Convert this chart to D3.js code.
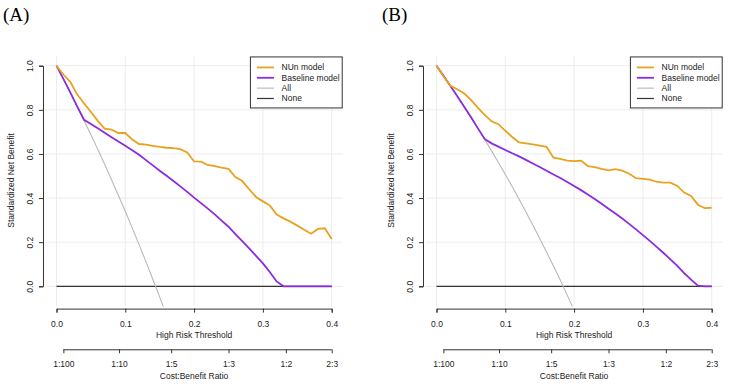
<!DOCTYPE html>
<html lang="en">
<head>
<meta charset="UTF-8">
<title>decision curves</title>
<script src="https://d3js.org/d3.v7.min.js"></script>
<style>
    body { margin: 0; background: #fff; }
    text { font-family: "Liberation Sans", Arial, sans-serif; font-size: 8.5px; fill: #222; }
    .panel-label { font-family: "Liberation Serif", "Times New Roman", serif; font-size: 19px; fill: #000; }
</style>
</head>
<body>
<script>
// thresholds 0.00 .. 0.40 step 0.01
const thresholds = [0.00, 0.01, 0.02, 0.03, 0.04, 0.05, 0.06, 0.07, 0.08, 0.09,
    0.10, 0.11, 0.12, 0.13, 0.14, 0.15, 0.16, 0.17, 0.18, 0.19,
    0.20, 0.21, 0.22, 0.23, 0.24, 0.25, 0.26, 0.27, 0.28, 0.29,
    0.30, 0.31, 0.32, 0.33, 0.34, 0.35, 0.36, 0.37, 0.38, 0.39, 0.40];

// panel A
const nunA = [1.000, 0.960, 0.927, 0.870, 0.830, 0.790, 0.750, 0.715, 0.710, 0.695,
    0.695, 0.665, 0.645, 0.642, 0.637, 0.632, 0.628, 0.626, 0.622, 0.607,
    0.566, 0.565, 0.550, 0.545, 0.538, 0.532, 0.495, 0.477, 0.440, 0.405,
    0.385, 0.367, 0.325, 0.308, 0.293, 0.275, 0.256, 0.238, 0.260, 0.263, 0.214];
const baseA = [1.000, 0.940, 0.879, 0.816, 0.755, 0.736, 0.716, 0.696, 0.676, 0.656,
    0.637, 0.617, 0.596, 0.572, 0.548, 0.524, 0.501, 0.477, 0.453, 0.428,
    0.402, 0.377, 0.352, 0.326, 0.298, 0.270, 0.237, 0.205, 0.172, 0.138,
    0.104, 0.065, 0.022, 0.000, 0.000, 0.000, 0.000, 0.000, 0.000, 0.000, 0.000];
const allA = [1.000, 0.940, 0.879, 0.816, 0.752, 0.687, 0.621, 0.553, 0.483, 0.412,
    0.340, 0.265, 0.189, 0.112, 0.032, -0.049, -0.132];

// panel B
const nunB = [1.000, 0.953, 0.910, 0.893, 0.875, 0.845, 0.810, 0.777, 0.748, 0.735,
    0.705, 0.677, 0.652, 0.648, 0.643, 0.638, 0.632, 0.583, 0.578, 0.570,
    0.567, 0.570, 0.545, 0.540, 0.532, 0.526, 0.531, 0.524, 0.510, 0.490,
    0.487, 0.484, 0.474, 0.470, 0.470, 0.455, 0.425, 0.410, 0.370, 0.354, 0.356];
const baseB = [1.000, 0.955, 0.909, 0.863, 0.815, 0.767, 0.717, 0.668, 0.648, 0.633,
    0.618, 0.603, 0.589, 0.573, 0.557, 0.541, 0.524, 0.507, 0.491, 0.473,
    0.455, 0.436, 0.416, 0.396, 0.374, 0.352, 0.330, 0.307, 0.283, 0.258,
    0.232, 0.206, 0.179, 0.151, 0.122, 0.093, 0.060, 0.030, 0.003, 0.000, 0.000];
const allB = [1.000, 0.955, 0.909, 0.863, 0.815, 0.767, 0.717, 0.666, 0.614, 0.561,
    0.507, 0.452, 0.395, 0.337, 0.278, 0.217, 0.155, 0.092, 0.027, -0.040, -0.109];

const xTicks = [0, 0.1, 0.2, 0.3, 0.4];
const yTicks = [0, 0.2, 0.4, 0.6, 0.8, 1.0];
const cbLabels = ["1:100", "1:10", "1:5", "1:3", "1:2", "2:3"];
const cbTicks = [0.01, 1 / 11, 1 / 6, 0.25, 1 / 3, 0.4];
const legendNames = ["NUn model", "Baseline model", "All", "None"];

const colors = { nun: "#E9A21E", base: "#8A2BE2", all: "#B8B8B8", none: "#333333" };

const W = 729, H = 386;
const svg = d3.select("body").append("svg").attr("width", W).attr("height", H);

function drawPanel(id, label, left, labelX, nun, base, all) {
    const g = svg.append("g");
    const x = d3.scaleLinear().domain([0, 0.4]).range([left, left + 275.2]);
    const y = d3.scaleLinear().domain([0, 1]).range([286.3, 65.7]);
    // plot region like R (4% extension)
    const px0 = x(-0.016), px1 = x(0.416), py0 = y(1.042), py1 = y(-0.092);

    g.append("text").attr("class", "panel-label").attr("x", labelX).attr("y", 21).text(label);

    g.append("clipPath").attr("id", "clip" + id)
        .append("rect").attr("x", px0).attr("y", py0).attr("width", px1 - px0).attr("height", py1 - py0);

    // grid
    g.selectAll(".vg").data(xTicks).join("line")
        .attr("x1", d => x(d)).attr("x2", d => x(d)).attr("y1", py0).attr("y2", py1)
        .attr("stroke", "#ececec").attr("stroke-width", 1);
    g.selectAll(".hg").data(yTicks).join("line")
        .attr("y1", d => y(d)).attr("y2", d => y(d)).attr("x1", px0).attr("x2", px1)
        .attr("stroke", "#ececec").attr("stroke-width", 1);

    const line = d3.line().x((d, i) => x(thresholds[i])).y(d => y(d));
    const plot = g.append("g").attr("clip-path", `url(#clip${id})`);

    plot.append("line").attr("x1", x(0)).attr("x2", x(0.4)).attr("y1", y(0)).attr("y2", y(0))
        .attr("stroke", colors.none).attr("stroke-width", 1.2);
    plot.append("path").datum(all).attr("d", line).attr("fill", "none")
        .attr("stroke", colors.all).attr("stroke-width", 1.1);
    plot.append("path").datum(base).attr("d", line).attr("fill", "none")
        .attr("stroke", colors.base).attr("stroke-width", 1.8);
    plot.append("path").datum(nun).attr("d", line).attr("fill", "none")
        .attr("stroke", colors.nun).attr("stroke-width", 1.8);

    // axes
    const xAxis = g.append("g").attr("transform", `translate(0,${py1 + 2})`)
        .call(d3.axisBottom(x).tickValues(xTicks).tickFormat(d3.format(".1f")).tickSizeOuter(0).tickSize(4).tickPadding(8));
    const yAxis = g.append("g").attr("transform", `translate(${px0 - 2.5},0)`)
        .call(d3.axisLeft(y).tickValues(yTicks).tickFormat(d3.format(".1f")).tickSizeOuter(0).tickSize(4).tickPadding(3));
    yAxis.selectAll(".tick text").attr("transform", "rotate(-90)")
        .attr("text-anchor", "middle").attr("x", 0).attr("y", -10).attr("dy", 0);

    const cb = g.append("g").attr("transform", `translate(0,349.3)`)
        .call(d3.axisBottom(x).tickValues(cbTicks).tickFormat((d, i) => cbLabels[i]).tickSizeOuter(0).tickSize(4).tickPadding(8));
    cb.select(".domain").remove();
    cb.append("line").attr("x1", x(0.01)).attr("x2", x(0.4)).attr("y1", 0.5).attr("y2", 0.5)
        .attr("stroke", "#333");

    [xAxis, yAxis, cb].forEach(a => {
        a.selectAll("text").attr("font-size", null).attr("font-family", null).attr("fill", "#222");
        a.selectAll("path, line").attr("stroke", "#333");
    });

    g.append("text").attr("x", x(0.2)).attr("y", 338).attr("text-anchor", "middle").text("High Risk Threshold");
    g.append("text").attr("x", x(0.2)).attr("y", 379).attr("text-anchor", "middle").text("Cost:Benefit Ratio");
    g.append("text").attr("transform", `translate(${left - 42.5},${y(0.48)}) rotate(-90)`)
        .attr("x", 0).attr("y", 0).attr("text-anchor", "middle").text("Standardized Net Benefit");

    // legend
    const lw = 92.8, lh = 51;
    const lg = g.append("g").attr("transform", `translate(${px1 - lw},${py0})`);
    lg.append("rect").attr("x", 0.5).attr("y", 0.5).attr("width", lw - 1).attr("height", lh)
        .attr("fill", "#fff").attr("stroke", "#333").attr("stroke-width", 1);
    const lc = [colors.nun, colors.base, colors.all, colors.none];
    const lsw = [1.8, 1.8, 1.1, 1.2];
    legendNames.forEach((n, i) => {
        const ly = 11 + i * 10.35;
        lg.append("line").attr("x1", 7).attr("x2", 24).attr("y1", ly).attr("y2", ly)
            .attr("stroke", lc[i]).attr("stroke-width", lsw[i]);
        lg.append("text").attr("x", 31.7).attr("y", ly + 3).text(n);
    });
}

drawPanel("A", "(A)", 56.5, 3, nunA, baseA, allA);
drawPanel("B", "(B)", 436.5, 382, nunB, baseB, allB);
</script>
</body>
</html>
